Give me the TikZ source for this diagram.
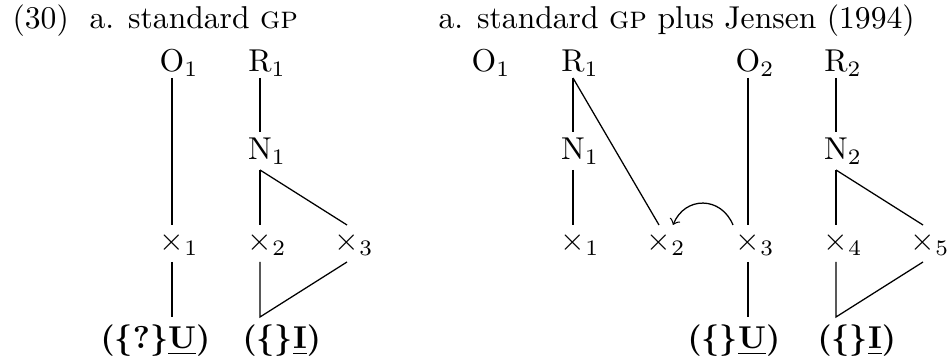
\documentclass[tikz,border=0pt]{standalone}
\usetikzlibrary{calc}
\newcommand{\bob}{{\boldmath$\{$}}
\newcommand{\bcb}{{\boldmath$\}$}}
\begin{document}
\begin{tikzpicture}[x=0.3165pt,y=-0.3165pt,
  lab/.style={inner sep=0pt,anchor=base},
  txt/.style={inner sep=0pt,anchor=base west},
  every path/.style={line width=0.4pt}]
\useasboundingbox (0,0) rectangle (950,362);
% header
\node[txt] (num) at (12,29) {(30)};
\node[txt] (ha) at (89,29) {a. standard \textsc{gp}};
\node[txt] (hb) at (438,29) {a. standard \textsc{gp} plus Jensen (1994)};
% helper rows
\coordinate (ya) at (0,78);
\coordinate (yb) at (0,132);
\coordinate (yc) at (0,170);
\coordinate (yd) at (0,225);
\coordinate (ye) at (0,262);
\coordinate (yf) at (0,317);
% left tree
\node[lab] (O1) at (172,72) {O\rlap{$_1$}};
\node[lab] (R1) at (260,72) {R\rlap{$_1$}};
\node[lab] (N1) at (260,160) {N\rlap{$_1$}};
\node[lab] (x1) at (172,251) {$\times$\rlap{$_1$}};
\node[lab] (x2) at (260,251) {$\times$\rlap{$_2$}};
\node[lab] (x3) at (347,251) {$\times$\rlap{$_3$}};
\node[txt] (b1) at (100,349) {\textbf{(\bob?\bcb\underline{U})}};
\node[txt] (b2) at (242,349) {\textbf{(\bob\bcb\underline{I})}};
\draw (O1 |- ya) -- (x1 |- yd);
\draw (R1 |- ya) -- (N1 |- yb);
\draw (N1 |- yc) -- (x2 |- yd);
\draw (N1 |- yc) -- (x3 |- yd);
\draw (x1 |- ye) -- (x1 |- yf);
\draw (x3 |- ye) -- (x2 |- yf) -- (x2 |- ye);
% right tree
\node[lab] (O1r) at (484,72) {O\rlap{$_1$}};
\node[lab] (R1r) at (573,72) {R\rlap{$_1$}};
\node[lab] (O2) at (748,72) {O\rlap{$_2$}};
\node[lab] (R2) at (836,72) {R\rlap{$_2$}};
\node[lab] (N1r) at (573,160) {N\rlap{$_1$}};
\node[lab] (N2) at (836,160) {N\rlap{$_2$}};
\node[lab] (x1r) at (573,251) {$\times$\rlap{$_1$}};
\node[lab] (x2r) at (659,251) {$\times$\rlap{$_2$}};
\node[lab] (x3r) at (748,251) {$\times$\rlap{$_3$}};
\node[lab] (x4r) at (836,251) {$\times$\rlap{$_4$}};
\node[lab] (x5r) at (923,251) {$\times$\rlap{$_5$}};
\node[txt] (b3) at (687,349) {\textbf{(\bob\bcb\underline{U})}};
\node[txt] (b4) at (817,349) {\textbf{(\bob\bcb\underline{I})}};
\draw (R1r |- ya) -- (N1r |- yb);
\draw (R1r |- ya) -- (x2r |- yd);
\draw (N1r |- yc) -- (x1r |- yd);
\draw (O2 |- ya) -- (x3r |- yd);
\draw (R2 |- ya) -- (N2 |- yb);
\draw (N2 |- yc) -- (x4r |- yd);
\draw (N2 |- yc) -- (x5r |- yd);
\draw (x3r |- ye) -- (x3r |- yf);
\draw (x5r |- ye) -- (x4r |- yf) -- (x4r |- ye);
% arrow
\draw[->] ($(x3r |- yd)+(-15,0)$) .. controls +(-12,-29) and +(12,-29) .. ($(x2r |- yd)+(14,0)$);
\end{tikzpicture}
\end{document}
